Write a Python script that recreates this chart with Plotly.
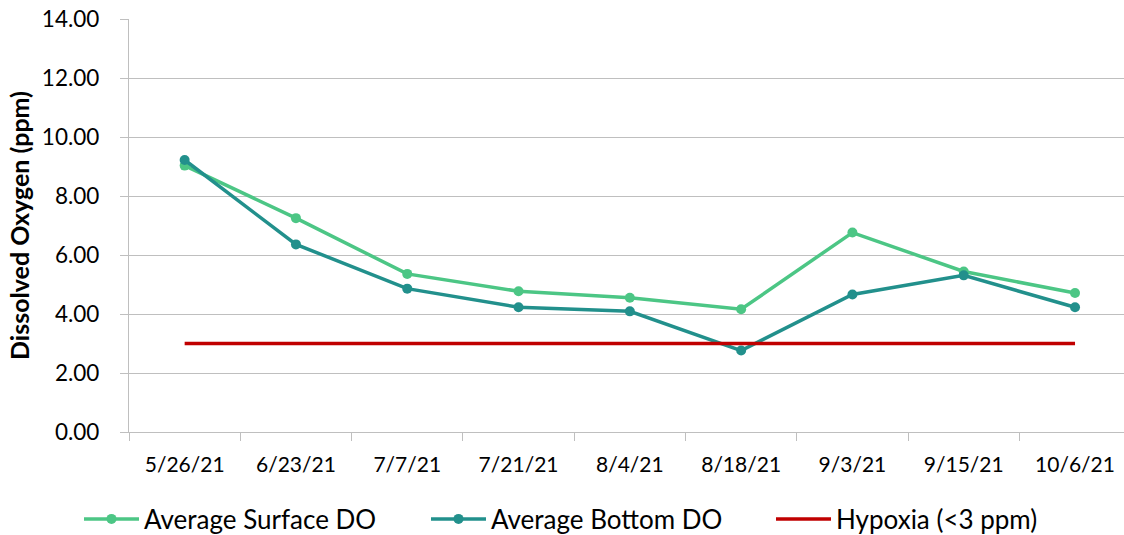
import plotly.graph_objects as go

dates = ["5/26/21", "6/23/21", "7/7/21", "7/21/21", "8/4/21", "8/18/21", "9/3/21", "9/15/21", "10/6/21"]
surface_do = [9.03, 7.25, 5.36, 4.77, 4.55, 4.16, 6.76, 5.44, 4.71]
bottom_do = [9.22, 6.36, 4.86, 4.23, 4.09, 2.76, 4.66, 5.31, 4.23]
hypoxia = [3.0] * len(dates)
y_ticks = [0, 2, 4, 6, 8, 10, 12, 14]
y_tick_labels = ["0.00", "2.00", "4.00", "6.00", "8.00", "10.00", "12.00", "14.00"]

FONT = "Lato"
W, H = 1124, 535

fig = go.Figure()
fig.add_trace(go.Scatter(x=dates, y=surface_do, name="Average Surface DO", mode="lines+markers",
                         line=dict(color="#4CC685", width=3.5), marker=dict(size=10, color="#4CC685"),
                         legend="legend"))
fig.add_trace(go.Scatter(x=dates, y=bottom_do, name="Average Bottom DO", mode="lines+markers",
                         line=dict(color="#22908C", width=3.5), marker=dict(size=10, color="#22908C"),
                         legend="legend2"))
fig.add_trace(go.Scatter(x=dates, y=hypoxia, name="Hypoxia (<3 ppm)", mode="lines",
                         line=dict(color="#C00000", width=3.5), legend="legend3"))

def leg(xpix):
    return dict(orientation="h", xref="container", yref="container", x=xpix / W, y=16 / H,
                xanchor="left", yanchor="middle", itemwidth=55, font=dict(size=26, family=FONT),
                bgcolor="rgba(0,0,0,0)", borderwidth=0)

fig.update_layout(
    width=W, height=H,
    margin=dict(l=129, r=0, t=19, b=103, autoexpand=False),
    paper_bgcolor="white", plot_bgcolor="white",
    font=dict(family=FONT, size=21, color="black"),
    showlegend=True,
    legend=leg(79), legend2=leg(426), legend3=leg(771),
    xaxis=dict(type="category", range=[-0.5, 8.44], showgrid=False, showline=True, automargin=False,
               linecolor="#BFBFBF", linewidth=1.3, ticks="outside", ticklen=8, tickcolor="#BFBFBF",
               tickson="boundaries", ticklabelstandoff=14, tickfont=dict(size=21, family=FONT)),
    yaxis=dict(range=[0, 14], tickvals=y_ticks, ticktext=y_tick_labels, showgrid=True, automargin=False,
               gridcolor="#BFBFBF", gridwidth=1.3, showline=True, linecolor="#BFBFBF", linewidth=1.3,
               ticks="outside", ticklen=8, tickcolor="#BFBFBF", zeroline=False,
               ticklabelstandoff=16, tickfont=dict(size=22.5, family=FONT),
               title=dict(text="<b>Dissolved Oxygen (ppm)</b>", font=dict(size=25, family=FONT), standoff=5)),
)

fig.write_html("out.html", config={"displayModeBar": False},
               post_script="document.body.style.margin='0px';document.body.style.overflow='hidden';")
